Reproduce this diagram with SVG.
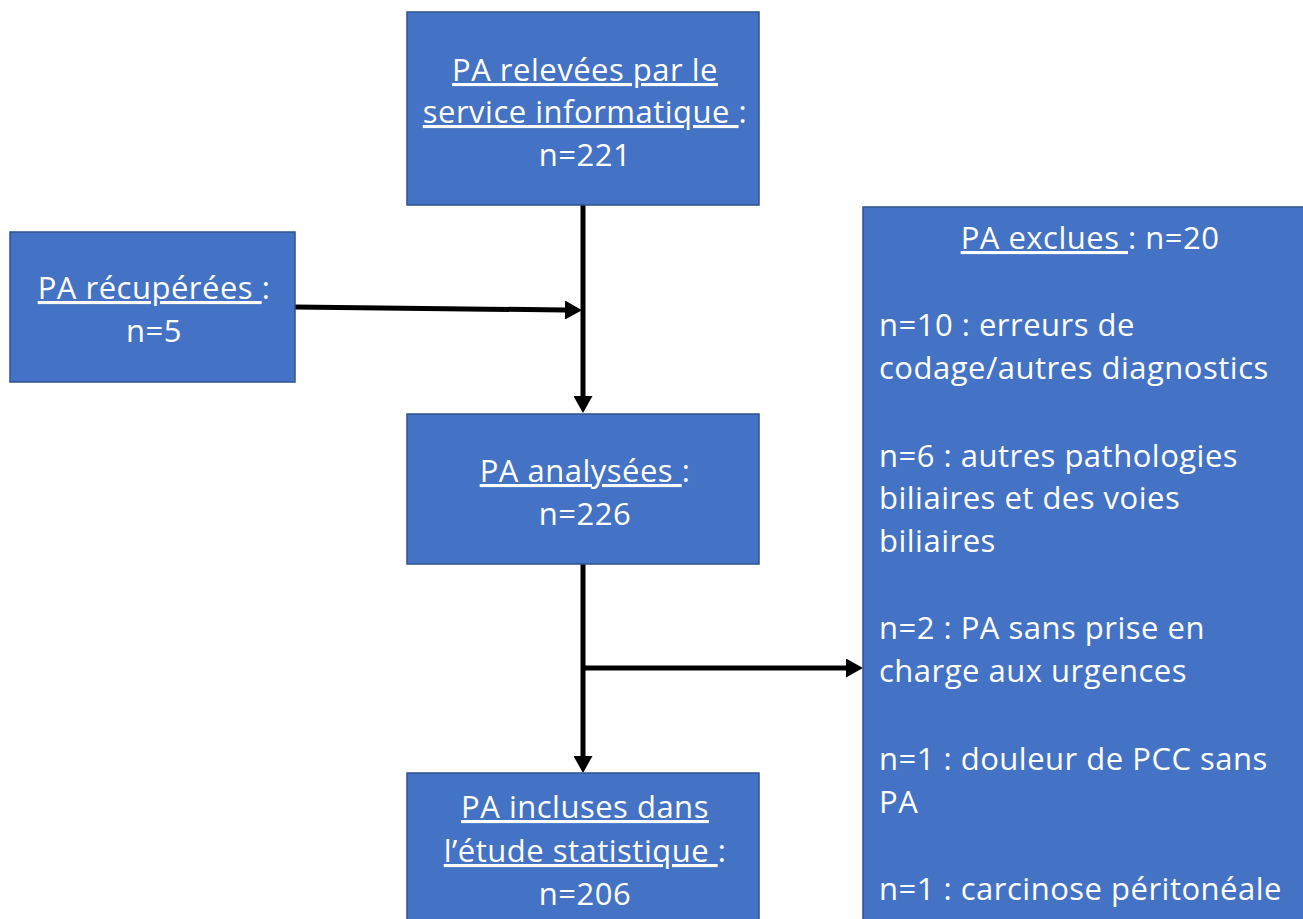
<svg xmlns="http://www.w3.org/2000/svg" width="1303" height="919" viewBox="0 0 1303 919">
<style>
.box{fill:#4472C4;stroke:#2F528F;stroke-width:1.5}
.t{font-family:"Open Sans","Liberation Sans",sans-serif;font-size:31px;letter-spacing:0.5px;fill:#FFFFFF}
.c{text-anchor:middle}
.u{text-decoration:underline}
.ln{stroke:#000;stroke-width:5;fill:none}
</style>
<defs>
<marker id="ah" markerUnits="userSpaceOnUse" markerWidth="17" markerHeight="19" viewBox="0 0 17 19" refX="0" refY="9.5" orient="auto">
<path d="M0,0 L17,9.5 L0,19 z" fill="#000"/>
</marker>
</defs>
<rect width="1303" height="919" fill="#FFFFFF"/>
<g id="connectors">
<line class="ln" x1="583" y1="205" x2="583" y2="396" marker-end="url(#ah)"/>
<line class="ln" x1="295" y1="307" x2="565" y2="310" marker-end="url(#ah)"/>
<line class="ln" x1="583" y1="564" x2="583" y2="756" marker-end="url(#ah)"/>
<line class="ln" x1="581" y1="668" x2="846" y2="668" marker-end="url(#ah)"/>
</g>
<g id="node-releves">
<rect class="box" x="407" y="12" width="352" height="193"/>
<text class="t c" x="585" y="81"><tspan class="u">PA relevées par le</tspan></text>
<text class="t c" x="585" y="123"><tspan class="u">service informatique </tspan>:</text>
<text class="t c" x="585" y="166">n=221</text>
</g>
<g id="node-recuperees">
<rect class="box" x="10" y="232" width="285" height="150"/>
<text class="t c" x="154" y="299"><tspan class="u">PA récupérées </tspan>:</text>
<text class="t c" x="154" y="342">n=5</text>
</g>
<g id="node-analysees">
<rect class="box" x="407" y="414" width="352" height="150"/>
<text class="t c" x="585" y="482"><tspan class="u">PA analysées </tspan>:</text>
<text class="t c" x="585" y="525">n=226</text>
</g>
<g id="node-incluses">
<rect class="box" x="407" y="773" width="352" height="160"/>
<text class="t c" x="585" y="818"><tspan class="u">PA incluses dans</tspan></text>
<text class="t c" x="585" y="862"><tspan class="u">l’étude statistique </tspan>:</text>
<text class="t c" x="585" y="905">n=206</text>
</g>
<g id="node-exclues">
<rect class="box" x="863" y="207" width="450" height="730"/>
<text class="t c" x="1090" y="249"><tspan class="u">PA exclues </tspan>: n=20</text>
<text class="t" x="879" y="336">n=10 : erreurs de</text>
<text class="t" x="879" y="379">codage/autres diagnostics</text>
<text class="t" x="879" y="467">n=6 : autres pathologies</text>
<text class="t" x="879" y="509">biliaires et des voies</text>
<text class="t" x="879" y="552">biliaires</text>
<text class="t" x="879" y="639">n=2 : PA sans prise en</text>
<text class="t" x="879" y="682">charge aux urgences</text>
<text class="t" x="879" y="770">n=1 : douleur de PCC sans</text>
<text class="t" x="879" y="813">PA</text>
<text class="t" x="879" y="900">n=1 : carcinose péritonéale</text>
</g>
</svg>
